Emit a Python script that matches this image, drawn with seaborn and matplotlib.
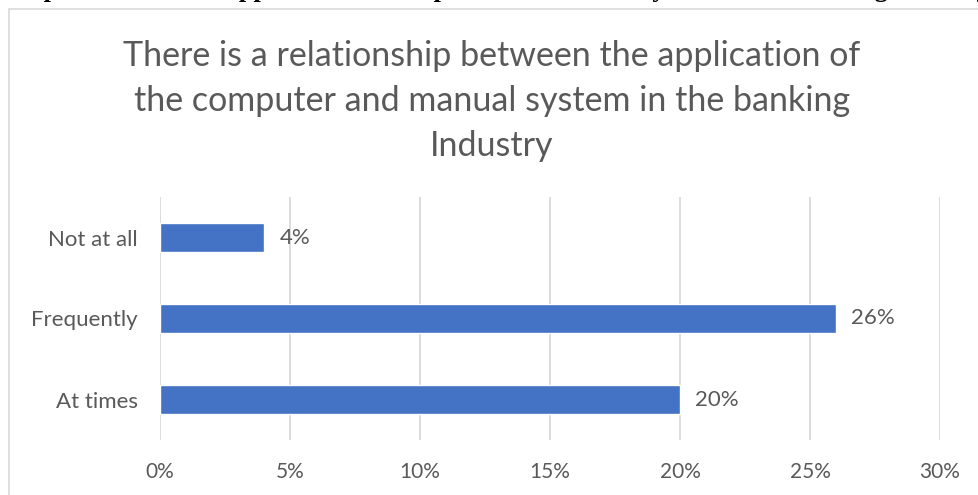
import matplotlib
matplotlib.use("Agg")
import matplotlib.pyplot as plt
from matplotlib.patches import Rectangle
from matplotlib.ticker import FuncFormatter
import seaborn as sns
import pandas as pd

# Survey responses
categories = ["Not at all", "Frequently", "At times"]
percentages = [4, 26, 20]
x_ticks = [0, 5, 10, 15, 20, 25, 30]

title_lines = [
    "There is a relationship between the application of",
    "the computer and manual system in the banking",
    "Industry",
]
caption = "Dependence of the application of computer and manual system in the banking industry"

df = pd.DataFrame({"category": categories, "pct": percentages})

sns.set_theme(style="white")
plt.rcParams["font.family"] = ["Lato", "DejaVu Sans"]

W, H = 979, 495
fig = plt.figure(figsize=(W / 100, H / 100), dpi=100)
fig.patch.set_facecolor("white")

# Chart frame (extends past the right and bottom edges)
fig.patches.append(Rectangle((9 / W, -0.05), 1.1, 1 - 9 / H + 0.05,
                             transform=fig.transFigure, fill=False,
                             edgecolor="#d9d9d9", linewidth=1.2, zorder=0))

# Document caption above the frame, mostly cut off by the top edge
fig.text(13 / W, 1 + 3 / H, caption, ha="left", va="baseline",
         fontsize=19, fontweight="bold", family="Liberation Serif", color="black")

ax = fig.add_axes([160 / W, 1 - 440 / H, 780 / W, 243 / H])

text_color = "#595959"
sns.barplot(data=df, x="pct", y="category", order=categories, orient="h",
            color="#4472C4", saturation=1, width=0.36, ax=ax, zorder=3)

ax.set_xlim(0, 30)
ax.set_xticks(x_ticks)
ax.xaxis.set_major_formatter(FuncFormatter(lambda v, p: f"{int(v)}%"))
ax.grid(axis="x", color="#d9d9d9", linewidth=1.3, zorder=0)
ax.set_axisbelow(True)
for s in ax.spines.values():
    s.set_visible(False)
ax.set_xlabel("")
ax.set_ylabel("")
ax.tick_params(axis="x", length=0, pad=16, labelsize=15, labelcolor=text_color)
ax.tick_params(axis="y", length=0, pad=16, labelsize=16, labelcolor=text_color)

for i, v in enumerate(percentages):
    ax.annotate(f"{v}%", xy=(v, i), xytext=(11, 0), textcoords="offset points",
                ha="left", va="center", fontsize=16, color=text_color)

for k, line in enumerate(title_lines):
    fig.text(492 / W, 1 - (56 + 45 * k) / H, line, ha="center", va="center",
             fontsize=24.5, color=text_color)

fig.savefig("out.png", dpi=100)
